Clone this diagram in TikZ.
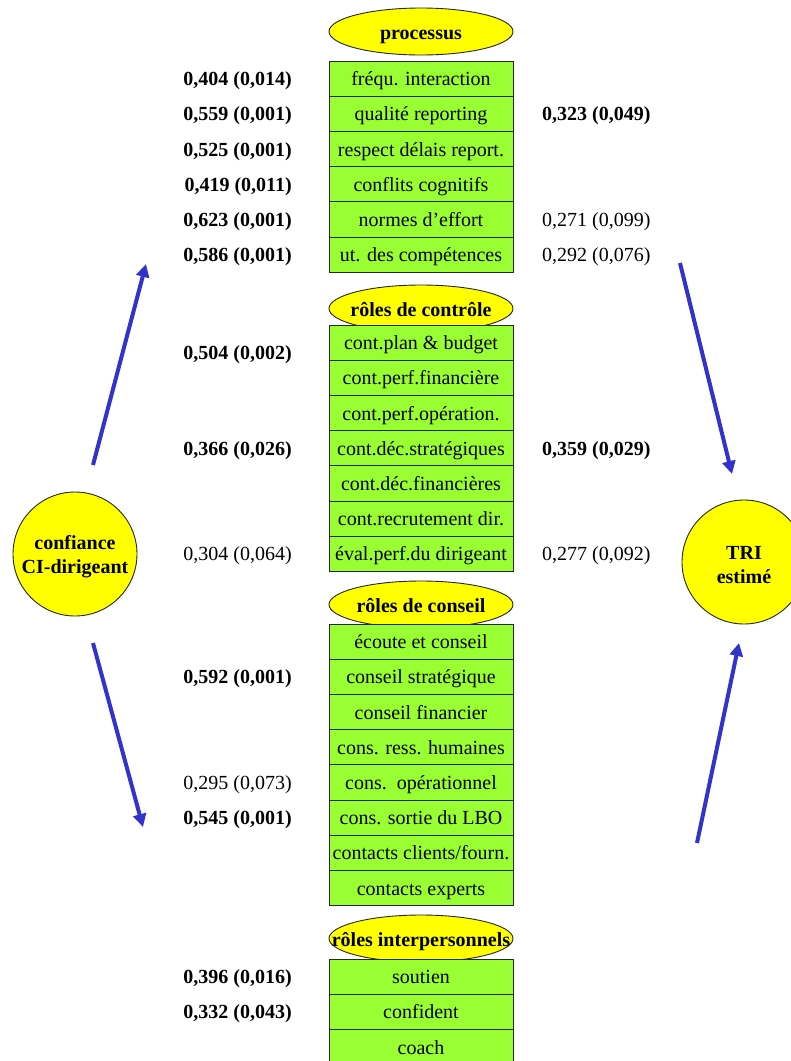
\documentclass[tikz,border=0pt]{standalone}
\usepackage{fontspec}
\setmainfont{Liberation Serif}
\usetikzlibrary{arrows.meta,shapes.geometric}
\definecolor{rowgreen}{RGB}{153,255,51}
\definecolor{capyellow}{RGB}{255,255,0}
\definecolor{linkblue}{RGB}{51,51,204}
\tikzset{
  rowbox/.style={draw=black!85, line width=0.9pt, fill=rowgreen,
    minimum width=184pt, minimum height=35.2pt, inner sep=0pt,
    font=\fontsize{20}{24}\selectfont, text height=16pt, text depth=2pt},
  capsule/.style={ellipse, draw=black!85, line width=0.9pt, fill=capyellow,
    minimum width=184pt, minimum height=47pt, inner sep=0pt,
    font=\fontsize{20}{24}\selectfont\bfseries, text height=17pt, text depth=1pt},
  disc/.style={circle, draw=black!85, line width=0.9pt, fill=capyellow,
    minimum size=124pt, inner sep=0pt},
  disctext/.style={align=center, inner sep=0pt,
    font=\fontsize{20}{24}\selectfont\bfseries},
  coefleft/.style={anchor=east, inner sep=0pt, font=\fontsize{20}{24}\selectfont,
    text height=16pt, text depth=2pt},
  coefright/.style={anchor=west, inner sep=0pt, font=\fontsize{20}{24}\selectfont,
    text height=16pt, text depth=2pt},
  signif/.style={font=\fontsize{20}{24}\selectfont\bfseries},
  link/.style={draw=linkblue, line width=4pt, -{Triangle[length=13pt,width=13pt]}}
}
\begin{document}
\begin{tikzpicture}[x=1pt,y=-1pt]
\useasboundingbox (0,0) rectangle (791,1061);

% group headers
\node[capsule] (hp) at (421,31.5) {\makebox[0pt]{processus}};
\node[capsule] (hc) at (421,308.5) {\makebox[0pt]{rôles de contrôle}};
\node[capsule] (hs) at (421,604.5) {\makebox[0pt]{rôles de conseil}};
\node[capsule] (hi) at (421,938.5) {\makebox[0pt]{rôles interpersonnels}};

% processus
\node[rowbox] (p1) at (421,78.6) {fréqu. interaction};
\node[rowbox] (p2) at (421,113.8) {qualité reporting};
\node[rowbox] (p3) at (421,149.0) {respect délais report.};
\node[rowbox] (p4) at (421,184.2) {conflits cognitifs};
\node[rowbox] (p5) at (421,219.4) {normes d’effort};
\node[rowbox] (p6) at (421,254.6) {ut. des compétences};

% rôles de contrôle
\node[rowbox] (c1) at (421,342.6) {cont.plan \& budget};
\node[rowbox] (c2) at (421,377.8) {cont.perf.financière};
\node[rowbox] (c3) at (421,413.0) {cont.perf.opération.};
\node[rowbox] (c4) at (421,448.2) {cont.déc.stratégiques};
\node[rowbox] (c5) at (421,483.4) {cont.déc.financières};
\node[rowbox] (c6) at (421,518.6) {cont.recrutement dir.};
\node[rowbox] (c7) at (421,553.8) {éval.perf.du dirigeant};

% rôles de conseil
\node[rowbox] (s1) at (421,641.6) {écoute et conseil};
\node[rowbox] (s2) at (421,676.8) {conseil stratégique};
\node[rowbox] (s3) at (421,712.0) {conseil financier};
\node[rowbox] (s4) at (421,747.2) {cons. ress. humaines};
\node[rowbox] (s5) at (421,782.4) {cons.\ \ opérationnel};
\node[rowbox] (s6) at (421,817.6) {cons. sortie du LBO};
\node[rowbox] (s7) at (421,852.8) {contacts clients/fourn.};
\node[rowbox] (s8) at (421,888.0) {contacts experts};

% rôles interpersonnels
\node[rowbox] (i1) at (421,976.6) {soutien};
\node[rowbox] (i2) at (421,1011.8) {confident};
\node[rowbox] (i3) at (421,1047.0) {coach};

% coefficients, confiance side
\node[coefleft,signif] (lp1) at (292,78.6) {0,404 (0,014)};
\node[coefleft,signif] (lp2) at (292,113.8) {0,559 (0,001)};
\node[coefleft,signif] (lp3) at (292,149.0) {0,525 (0,001)};
\node[coefleft,signif] (lp4) at (292,184.2) {0,419 (0,011)};
\node[coefleft,signif] (lp5) at (292,219.4) {0,623 (0,001)};
\node[coefleft,signif] (lp6) at (292,254.6) {0,586 (0,001)};
\node[coefleft,signif] (lc1) at (292,352.0) {0,504 (0,002)};
\node[coefleft,signif] (lc4) at (292,448.2) {0,366 (0,026)};
\node[coefleft] (lc7) at (292,553.8) {0,304 (0,064)};
\node[coefleft,signif] (ls2) at (292,676.8) {0,592 (0,001)};
\node[coefleft] (ls5) at (292,782.4) {0,295 (0,073)};
\node[coefleft,signif] (ls6) at (292,817.6) {0,545 (0,001)};
\node[coefleft,signif] (li1) at (292,976.6) {0,396 (0,016)};
\node[coefleft,signif] (li2) at (292,1011.8) {0,332 (0,043)};

% coefficients, TRI side
\node[coefright,signif] (rp2) at (542,113.8) {0,323 (0,049)};
\node[coefright] (rp5) at (542,219.4) {0,271 (0,099)};
\node[coefright] (rp6) at (542,254.6) {0,292 (0,076)};
\node[coefright,signif] (rc4) at (542,448.2) {0,359 (0,029)};
\node[coefright] (rc7) at (542,553.8) {0,277 (0,092)};

% constructs
\node[disc] (conf) at (75,554) {};
\node[disctext] (conft) at (75,557) {confiance\\CI-dirigeant};
\node[disc] (tri) at (744,562) {};
\node[disctext] (trit) at (744,565) {TRI\\estimé};

% arrows
\coordinate (a1s) at (93,465);
\coordinate (a1e) at (146,264);
\coordinate (a2s) at (680,263);
\coordinate (a2e) at (732,474);
\coordinate (a3s) at (93,643);
\coordinate (a3e) at (143,827);
\coordinate (a4s) at (697,843);
\coordinate (a4e) at (739,643);
\draw[link] (a1s) -- (a1e);
\draw[link] (a2s) -- (a2e);
\draw[link] (a3s) -- (a3e);
\draw[link] (a4s) -- (a4e);
\end{tikzpicture}
\end{document}
